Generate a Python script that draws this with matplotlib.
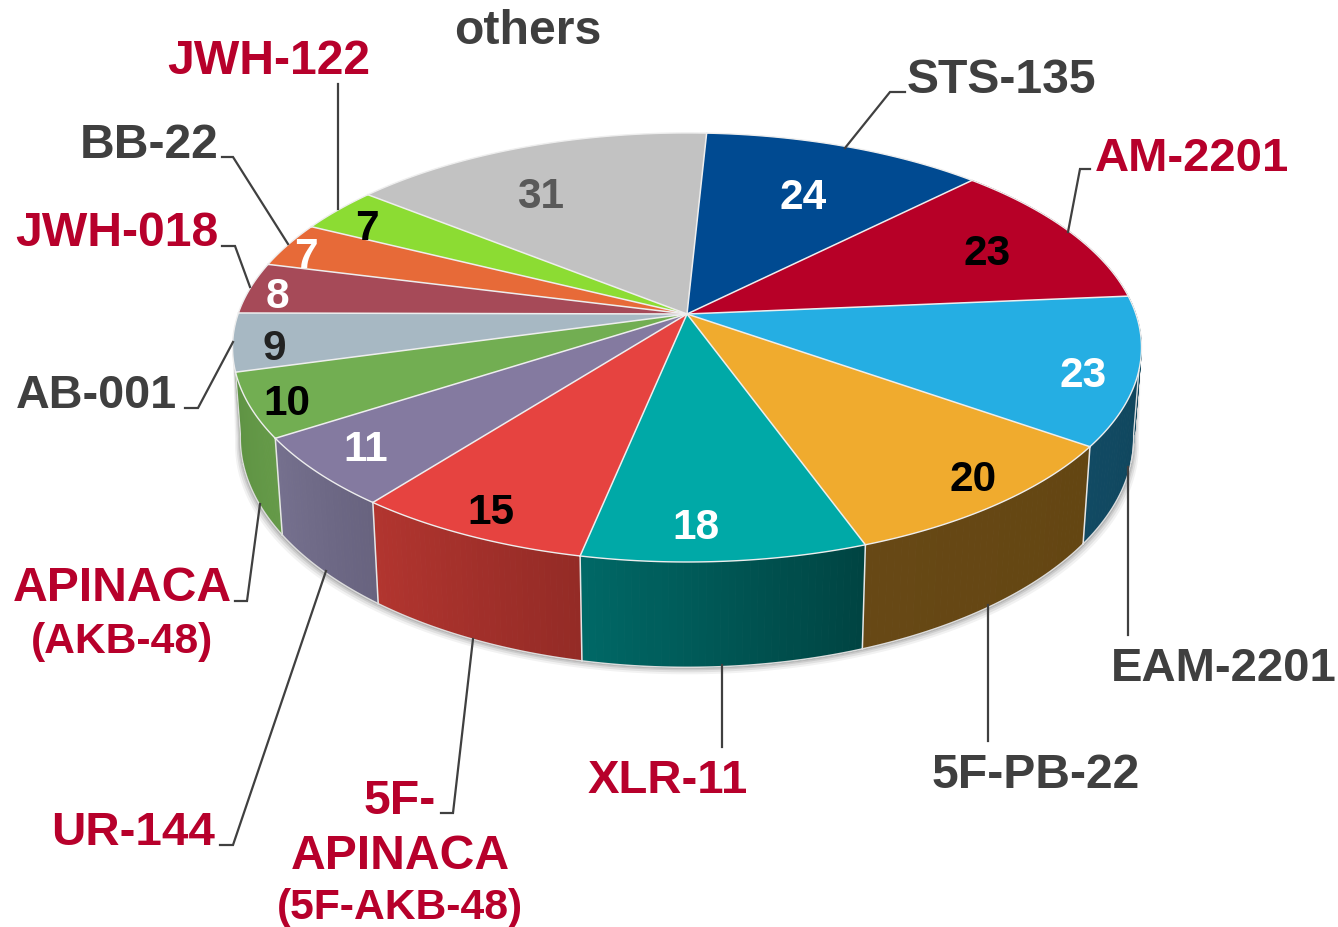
import matplotlib

matplotlib.use('Agg')

import numpy as np
import matplotlib.pyplot as plt
from matplotlib.colors import to_rgb

plt.rcParams['font.family'] = ['Liberation Sans', 'DejaVu Sans']

# slices, clockwise from the top
names = ["STS-135", "AM-2201", "EAM-2201", "5F-PB-22", "XLR-11", "5F-APINACA", "UR-144",
         "APINACA", "AB-001", "JWH-018", "BB-22", "JWH-122", "others"]
values = [24, 23, 23, 20, 18, 15, 11, 10, 9, 8, 7, 7, 31]

top_colors = ["#004a91", "#b70027", "#25aee3", "#f0ab2e", "#00a9a7", "#e64340", "#847aa0",
              "#72ae52", "#a7b8c3", "#a64a58", "#e76a38", "#8cdc33", "#c2c2c2"]
side_left = ["#00325f", "#7a001a", "#114a63", "#674815", "#006866", "#b2352f", "#75708e",
             "#5f9344", "#6f7c84", "#6e313a", "#9a4625", "#5d9222", "#808080"]
side_right = ["#00325f", "#7a001a", "#0f4358", "#644612", "#004442", "#942b26", "#68637f",
              "#659a48", "#6f7c84", "#6e313a", "#9a4625", "#5d9222", "#808080"]
number_colors = ["white", "black", "white", "black", "white", "black", "white",
                 "black", "#222222", "white", "white", "black", "#595959"]

# label layout: text, x centre, baseline, colour
dark = "#3f3f3f"
red = "#b7002b"
label_text = ["others", "STS-135", "AM-2201", "EAM-2201", "5F-PB-22", "XLR-11", "5F-", "APINACA",
              "(5F-AKB-48)", "UR-144", "APINACA", "(AKB-48)", "AB-001", "JWH-018", "BB-22", "JWH-122"]
label_x = [528, 1001, 1192, 1224, 1036, 668, 400, 400, 400, 133, 122, 122, 96, 117, 149, 269]
label_y = [44, 93, 171, 681, 788, 793, 814, 869, 919, 845, 601, 653, 408, 246, 158, 74]
label_size = [34.7, 34.7, 34, 34, 34.7, 34, 34.7, 34.7, 30.7, 34.2, 34.7, 30.7, 33.7, 34.7, 34.7, 34.7]
label_color = [dark, dark, red, dark, dark, red, red, red, red, red, red, red, dark, red, dark, red]

number_x = [803, 987, 1083, 973, 696, 491, 366, 287, 274, 277, 306, 367, 541]
number_y = [209, 265, 387, 491, 539, 524, 461, 415, 360, 308, 268, 240, 208]

leaders = [
    ([905, 890, 845], [93, 93, 149]),
    ([1090, 1080, 1068], [170, 170, 233]),
    ([1128, 1128], [636, 468]),
    ([988, 988], [742, 606]),
    ([722, 722], [748, 666]),
    ([441, 453, 473], [814, 814, 640]),
    ([220, 233, 326], [846, 846, 572]),
    ([235, 247, 260], [602, 602, 505]),
    ([185, 198, 233], [409, 409, 343]),
    ([222, 235, 250], [247, 247, 288]),
    ([222, 233, 288], [158, 158, 245]),
    ([338, 338], [85, 210]),
]

# tilted disc: perspective projection of a circle
cx, cy = 687, 315
a, b, k = 448.9, 209.3, 0.156
start = 2.9


def top_xy(theta):
    t = np.radians(theta)
    u, v = np.sin(t), -np.cos(t)
    w = 1 - k * v
    return cx + a * u / w, cy + b * v / w


def low_xy(theta):
    x, y = top_xy(theta)
    return cx + (x - cx) * 0.983, y + 88 + 0.07 * (y - cy)


def mix(c1, c2, f):
    c1, c2 = np.array(to_rgb(c1)), np.array(to_rgb(c2))
    return tuple(c1 + (c2 - c1) * f)


fig = plt.figure(figsize=(13.38, 9.28), dpi=100)
ax = fig.add_axes([0, 0, 1, 1])
ax.set_xlim(0, 1338)
ax.set_ylim(928, 0)
ax.axis("off")

edges = start + np.concatenate([[0], np.cumsum(values)]) / sum(values) * 360

# soft shadow under the rim
rim = np.linspace(98, 262, 300)
for off, alpha in zip([7, 5, 3, 1.5], [0.05, 0.07, 0.09, 0.12]):
    lx, ly = low_xy(rim)
    ux, uy = top_xy(rim)
    sx = cx + (lx - cx) * (1 + off / 600)
    ax.fill(np.r_[sx, ux[::-1]], np.r_[ly + off, uy[::-1]], color="black", alpha=alpha, lw=0, zorder=1)

# side faces
for i in range(8):
    t0, t1 = edges[i], edges[i + 1]
    if t1 < 75:
        continue
    ts = np.linspace(t0, t1, 40)
    for j in range(len(ts) - 1):
        x0, y0 = top_xy(ts[j:j + 2])
        x1, y1 = low_xy(ts[j:j + 2])
        # side shading runs left to right on screen, theta runs right to left
        col = mix(side_right[i], side_left[i], j / (len(ts) - 2))
        ax.fill(np.r_[x0, x1[::-1]], np.r_[y0, y1[::-1]], color=col, lw=0.6, zorder=2)
    if t0 > 100:
        x0, y0 = top_xy(t0)
        x1, y1 = low_xy(t0)
        ax.plot([x0, x1], [y0, y1], color="#e6e6e6", lw=1.1, zorder=3)
    ts = ts[ts >= 98]
    lx, ly = low_xy(ts)
    ax.plot(lx, ly, color="#dcdcdc", lw=1.1, zorder=3)

# the two ends of the rim run up to the top face
left_top = top_xy(edges[8])
fan = np.linspace(edges[8], 262, 12)
fx, fy = low_xy(fan)
ax.fill(np.r_[left_top[0], low_xy(edges[8])[0], fx], np.r_[left_top[1], low_xy(edges[8])[1], fy],
        color=side_right[7], lw=0.6, zorder=2)
ax.plot(np.r_[fx, left_top[0]], np.r_[fy, left_top[1]], color="#dcdcdc", lw=1.0, zorder=3)
right_top = top_xy(105)
fan = np.linspace(105, 98, 12)
fx, fy = low_xy(fan)
ax.fill(np.r_[right_top[0], fx], np.r_[right_top[1], fy], color=side_left[2], lw=0.6, zorder=2)
ax.plot(np.r_[fx, right_top[0]], np.r_[fy, right_top[1]], color="#dcdcdc", lw=1.0, zorder=3)

# top faces
for i in range(len(values)):
    ts = np.linspace(edges[i], edges[i + 1], 80)
    x, y = top_xy(ts)
    ax.fill(np.r_[cx, x], np.r_[cy, y], color=top_colors[i], lw=0, zorder=4)
for i in range(len(values)):
    ts = np.linspace(edges[i], edges[i + 1], 80)
    x, y = top_xy(ts)
    ax.plot(np.r_[cx, x[0]], np.r_[cy, y[0]], color="#eeeeee", lw=1.1, zorder=5)
    ax.plot(x, y, color="#eeeeee", lw=1.0, zorder=5)

for lx, ly in leaders:
    ax.plot(lx, ly, color="#404040", lw=1.6, zorder=6, solid_joinstyle="miter")

for i in range(len(values)):
    ax.text(number_x[i], number_y[i], str(values[i]), color=number_colors[i], fontsize=30.5,
            fontweight="bold", ha="center", va="baseline", zorder=7)

for t, x, y, s, c in zip(label_text, label_x, label_y, label_size, label_color):
    ax.text(x, y, t, color=c, fontsize=s, fontweight="bold", ha="center", va="baseline", zorder=7)

fig.savefig("out.png", dpi=100)
